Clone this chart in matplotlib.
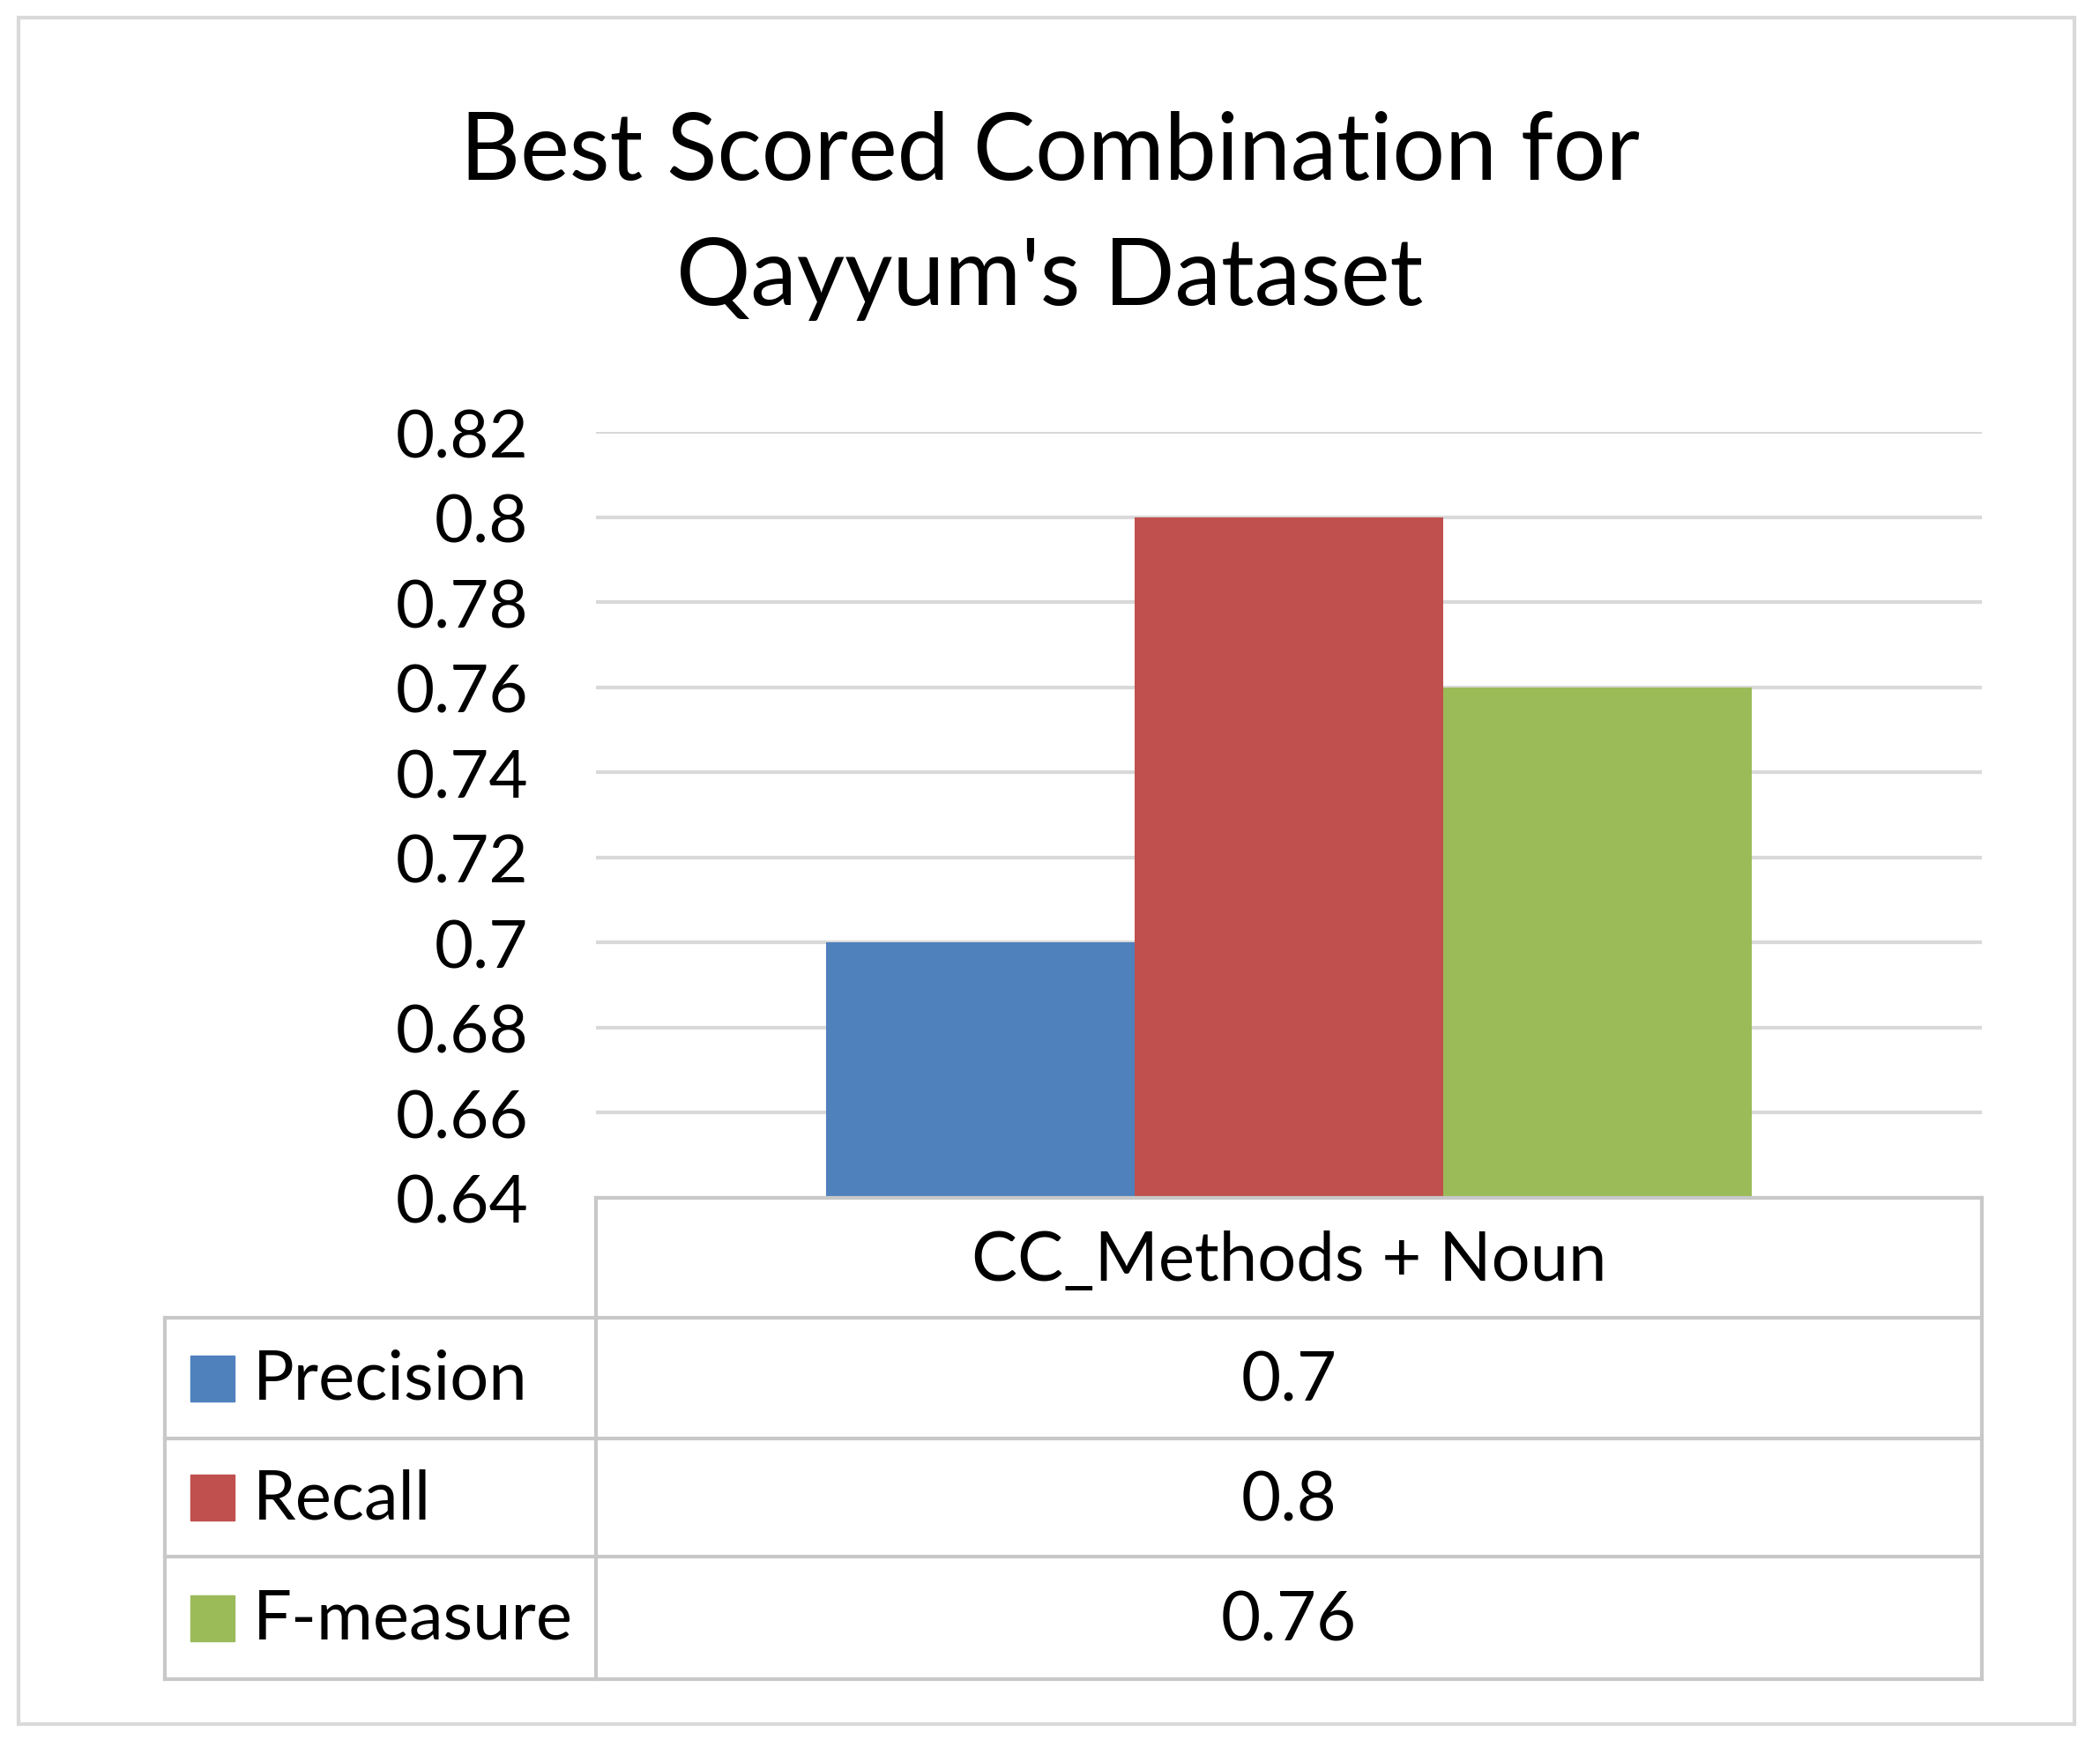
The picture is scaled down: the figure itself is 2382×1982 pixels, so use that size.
import matplotlib
matplotlib.use("Agg")
import matplotlib.pyplot as plt
from matplotlib.lines import Line2D
from matplotlib.patches import Rectangle

plt.rcParams['font.family'] = ['Lato', 'DejaVu Sans']

category = "CC_Methods + Noun"
series = ["Precision", "Recall", "F-measure"]
values = [0.7, 0.8, 0.76]
value_labels = ["0.7", "0.8", "0.76"]
colors = ["#4F81BD", "#C0504D", "#9BBB59"]
yticks = [0.64, 0.66, 0.68, 0.70, 0.72, 0.74, 0.76, 0.78, 0.80, 0.82]
ytick_labels = ["0.64", "0.66", "0.68", "0.7", "0.72", "0.74", "0.76", "0.78", "0.8", "0.82"]

W, H = 2382, 1983
fig = plt.figure(figsize=(W / 100, H / 100), dpi=100)


def fx(x):
    return x / W


def fy(y):
    return 1 - y / H


# plot area in pixels
left, right, top, bottom = 676, 2248, 491, 1360
ax = fig.add_axes([fx(left), fy(bottom), fx(right - left), (bottom - top) / H])

w = 0.2226
for i, (s, v, c) in enumerate(zip(series, values, colors)):
    ax.bar(0.5 + (i - 1) * w, v - 0.64, bottom=0.64, width=w, color=c, zorder=3)

ax.set_xlim(0, 1)
ax.set_ylim(0.64, 0.82)
ax.set_yticks(yticks)
ax.set_yticklabels(ytick_labels, fontsize=55)
ax.tick_params(axis='y', length=0, pad=55)
ax.set_xticks([])
ax.grid(axis='y', color='#D9D9D9', linewidth=3, zorder=0)
for sp in ax.spines.values():
    sp.set_visible(False)

# title
fig.text(0.5, fy(174), "Best Scored Combination for", ha='center', va='center', fontsize=76)
fig.text(0.5, fy(316), "Qayyum's Dataset", ha='center', va='center', fontsize=76)

# data table
lc = '#C8C8C8'
lw = 3
tab_left = 187
rows_y = [1360, 1496, 1633, 1767, 1906]
fig.add_artist(Line2D([fx(left), fx(right)], [fy(rows_y[0])] * 2, color=lc, lw=lw))
for y in rows_y[1:]:
    fig.add_artist(Line2D([fx(tab_left), fx(right)], [fy(y)] * 2, color=lc, lw=lw))
fig.add_artist(Line2D([fx(left)] * 2, [fy(rows_y[0]), fy(rows_y[-1])], color=lc, lw=lw))
fig.add_artist(Line2D([fx(right)] * 2, [fy(rows_y[0]), fy(rows_y[-1])], color=lc, lw=lw))
fig.add_artist(Line2D([fx(tab_left)] * 2, [fy(rows_y[1]), fy(rows_y[-1])], color=lc, lw=lw))

cx = (left + right) / 2
fig.text(fx(cx), fy((rows_y[0] + rows_y[1]) / 2 + 4), category, ha='center', va='center', fontsize=56)
for i, (s, lab, c) in enumerate(zip(series, value_labels, colors)):
    yc = (rows_y[i + 1] + rows_y[i + 2]) / 2
    fig.add_artist(Rectangle((fx(216), fy(yc + 26)), 50 / W, 52 / H, color=c))
    fig.text(fx(287), fy(yc + 2), s, ha='left', va='center', fontsize=56)
    fig.text(fx(cx), fy(yc + 4), lab, ha='center', va='center', fontsize=56)

# outer border
fig.add_artist(Rectangle((fx(21), fy(1957)), (2353 - 21) / W, (1957 - 21) / H,
                         fill=False, edgecolor='#D9D9D9', lw=3))

fig.savefig("out.png", dpi=100, facecolor='white')
